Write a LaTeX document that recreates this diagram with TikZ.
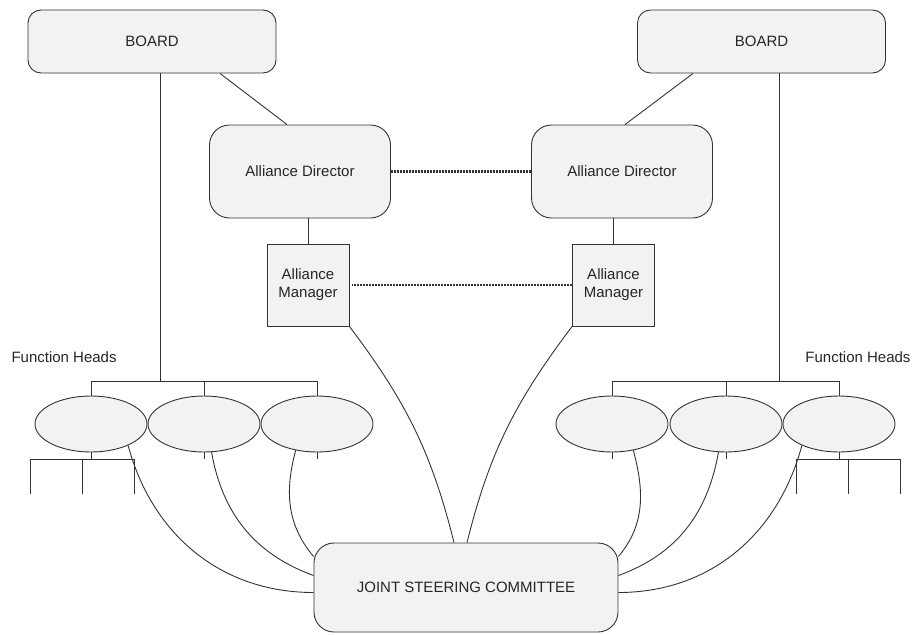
\documentclass[tikz,border=0pt]{standalone}
\usepackage{fontspec}
\setmainfont{Liberation Sans}
\usetikzlibrary{shapes.geometric}
\definecolor{boxfill}{HTML}{F2F2F2}
\definecolor{boxline}{HTML}{333333}
\begin{document}
\begin{tikzpicture}[
    x=1pt, y=-1pt,
    font=\fontsize{15}{18}\selectfont, text=black!85,
    boardnode/.style={draw=boxline, fill=boxfill, rounded corners=13pt, line width=0.9pt, minimum width=248pt, minimum height=63pt},
    dirnode/.style={draw=boxline, fill=boxfill, rounded corners=20pt, line width=0.9pt, minimum width=181pt, minimum height=93pt},
    mgrnode/.style={draw=boxline, fill=boxfill, line width=0.9pt, minimum width=82pt, minimum height=82pt, align=center},
    headnode/.style={draw=boxline, fill=boxfill, ellipse, line width=0.9pt, minimum width=112pt, minimum height=56pt, inner sep=0pt},
    jscnode/.style={draw=boxline, fill=boxfill, rounded corners=20pt, line width=0.9pt, minimum width=304pt, minimum height=89pt},
    link/.style={draw=boxline, line width=0.9pt},
    peerlink/.style={draw=black!80, line width=2.2pt, dash pattern=on 1pt off 0.5pt},
]
    \useasboundingbox (0,0) rectangle (917,634);

    \node[boardnode] (bL) at (152,41.5)  {BOARD};
    \node[boardnode] (bR) at (761.5,41.5) {BOARD};
    \node[dirnode] (adL) at (300,171.5) {Alliance Director};
    \node[dirnode] (adR) at (622,171.5) {Alliance Director};
    \node[mgrnode] (amL) at (308,285)   {Alliance\\Manager};
    \node[mgrnode] (amR) at (613.5,285) {Alliance\\Manager};

    \node[anchor=west] (fhL) at (8,357)   {Function Heads};
    \node[anchor=east] (fhR) at (914,357) {Function Heads};

    \foreach \i/\x in {1/91, 2/204, 3/317, 4/612, 5/726, 6/839}
        \node[headnode] (f\i) at (\x,424) {};

    \node[jscnode] (jsc) at (466,587.5) {JOINT STEERING COMMITTEE};

    \coordinate (jL) at (160,381);
    \coordinate (jR) at (779,381);
    \coordinate (sL) at (82,459);
    \coordinate (sR) at (848,459);

    \draw[link] (bL.south -| jL) -- (jL);
    \draw[link] ([xshift=68pt]bL.south) -- ([xshift=-13pt]adL.north);
    \draw[link] (bR.south -| jR) -- (jR);
    \draw[link] ([xshift=-68.5pt]bR.south) -- ([xshift=3pt]adR.north);

    \draw[link] (amL.north) -- (amL.north |- adL.south);
    \draw[link] (amR.north) -- (amR.north |- adR.south);
    \draw[peerlink] (adL.east) -- (adR.west);
    \draw[peerlink] ([xshift=3pt]amL.east) -- (amR.west);

    \draw[link] (f1.north) -- (f1.north |- jL) -- (f3.north |- jL) -- (f3.north);
    \draw[link] (f2.north) -- (f2.north |- jL);
    \draw[link] (f4.north) -- (f4.north |- jR) -- (f6.north |- jR) -- (f6.north);
    \draw[link] (f5.north) -- (f5.north |- jR);

    \draw[link] (f1.south) -- (f1.south |- sL);
    \draw[link] ([xshift=-52pt]sL) -- ([xshift=52pt]sL);
    \foreach \d in {-52,0,52}
        \draw[link] ([xshift=\d pt]sL) -- ++(0,35);
    \draw[link] (f6.south) -- (f6.south |- sR);
    \draw[link] ([xshift=-52pt]sR) -- ([xshift=52pt]sR);
    \foreach \d in {-52,0,52}
        \draw[link] ([xshift=\d pt]sR) -- ++(0,35);
    \foreach \f in {f2,f3,f4,f5}
        \draw[link] (\f.south) -- (\f.south |- sL);

    \draw[link] (amL.south east) to[out=-53,in=104] ([xshift=-12pt]jsc.north);
    \draw[link] (amR.south west) to[out=-127,in=76] ([xshift=1pt]jsc.north);

    \draw[link] (f1.-30)  to[out=-75,in=180]  ([yshift=-5pt]jsc.west);
    \draw[link] (f2.-75)  to[out=-80,in=160]  ([yshift=12pt]jsc.west);
    \draw[link] (f3.-129) to[out=-105,in=130] ([yshift=31pt]jsc.west);
    \draw[link] (f4.-51)  to[out=-75,in=50]   ([yshift=31pt]jsc.east);
    \draw[link] (f5.-105) to[out=-100,in=20]  ([yshift=12pt]jsc.east);
    \draw[link] (f6.-150) to[out=-105,in=0]   ([yshift=-5pt]jsc.east);
\end{tikzpicture}
\end{document}
